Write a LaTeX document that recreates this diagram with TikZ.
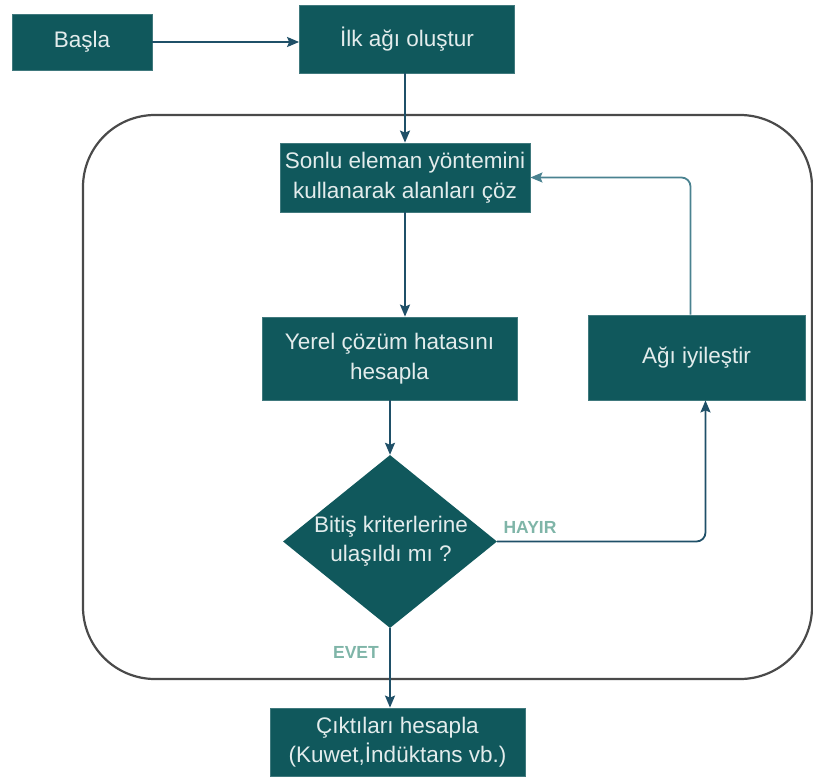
\documentclass[tikz,border=0pt]{standalone}
\usepackage{fontspec}
\setmainfont{Liberation Sans}
\usetikzlibrary{shapes.geometric,arrows.meta}
\definecolor{boxfill}{HTML}{10585C}
\definecolor{boxtext}{HTML}{E3ECEC}
\definecolor{arrowcol}{HTML}{1F5068}
\definecolor{backcol}{HTML}{4A8290}
\definecolor{framecol}{HTML}{4A4A4A}
\definecolor{labelcol}{HTML}{7FB5A8}
\tikzset{
  boxfont/.style={font=\fontsize{22.5}{29.5}\selectfont},
  stepbox/.style={rectangle, fill=boxfill, draw=boxfill!80!white, line width=0.8pt,
    text=boxtext, align=center, inner sep=0pt, boxfont},
  decision/.style={diamond, fill=boxfill, inner sep=0pt},
  decisiontext/.style={text=boxtext, align=center, inner sep=0pt, boxfont},
  flow/.style={draw=arrowcol, line width=1.8pt,
    -{Stealth[length=12pt,width=10pt,inset=2pt]}},
  backflow/.style={flow, draw=backcol, rounded corners=9pt},
  answer/.style={text=labelcol, font=\fontsize{17.5}{21}\selectfont\bfseries},
  frame/.style={draw=framecol, line width=2.2pt, rounded corners=72pt}
}
\begin{document}
\begin{tikzpicture}[x=1pt,y=-1pt]
  \useasboundingbox (0,0) rectangle (813,776);
  % loop frame
  \draw[frame] (83,115) rectangle (812,679);

  % steps
  \node[stepbox, minimum width=140pt, minimum height=56pt] (basla) at (82,42) {Başla};
  \node[stepbox, minimum width=215pt, minimum height=68pt] (ilk) at (407,39) {İlk ağı oluştur};
  \node[stepbox, minimum width=250pt, minimum height=69pt] (sonlu) at (405,177.5)
    {Sonlu eleman yöntemini\\kullanarak alanları çöz};
  \node[stepbox, minimum width=255pt, minimum height=83pt] (yerel) at (389.5,358.5)
    {Yerel çözüm hatasını\\hesapla};
  \node[stepbox, minimum width=217pt, minimum height=85pt] (agi) at (696.5,357.5)
    {Ağı iyileştir};
  \node[decision, minimum width=214pt, minimum height=173pt] (karar) at (390,541.5) {};
  \node[decisiontext] (karartext) at (391,541) {Bitiş kriterlerine\\ulaşıldı mı ?};
  \node[stepbox, minimum width=255pt, minimum height=68pt] (cikti) at (397.5,742)
    {Çıktıları hesapla\\(Kuwet,İndüktans vb.)};

  % answers
  \node[answer] (hayir) at (530,527) {HAYIR};
  \node[answer] (evet) at (356,652) {EVET};

  % connectors
  \draw[flow] (basla.east) -- (basla.east -| ilk.west);
  \draw[flow] (sonlu.north |- ilk.south) -- (sonlu.north);
  \draw[flow] (sonlu.south) -- (sonlu.south |- yerel.north);
  \draw[flow] (karar.north |- yerel.south) -- (karar.north);
  \draw[flow] (karar.south) -- (karar.south |- cikti.north);
  \coordinate (agiin) at ([xshift=9pt]agi.south);
  \coordinate (agiout) at ([xshift=-6pt]agi.north);
  \draw[flow, rounded corners=9pt] (karar.east) -| (agiin);
  \draw[backflow] (agiout) |- (sonlu.east);
\end{tikzpicture}
\end{document}
